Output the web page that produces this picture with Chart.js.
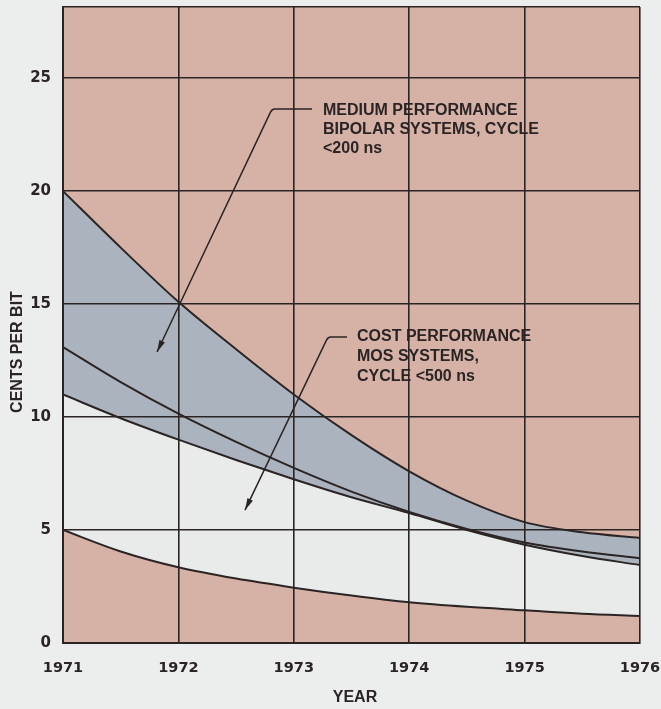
<!DOCTYPE html>
<html>
<head>
<meta charset="utf-8">
<script src="https://cdn.jsdelivr.net/npm/chart.js@4/dist/chart.umd.min.js"></script>
<style>
  html, body { margin: 0; padding: 0; background: #eceeee; }
  #wrap { width: 661px; height: 709px; }
</style>
</head>
<body>
<div id="wrap"><canvas id="c" width="661" height="709"></canvas></div>
<script>
// ---- data ----
const years = [1971, 1971.5, 1972, 1972.5, 1973, 1973.5, 1974, 1974.5, 1975, 1975.5, 1976];
// upper edge of the bipolar band
const bipolarUpper = [20.0, 17.5, 15.1, 13.0, 11.0, 9.2, 7.6, 6.3, 5.35, 4.9, 4.65];
// second curve (bipolar lower edge)
const bipolarLower = [13.1, 11.55, 10.15, 8.9, 7.75, 6.7, 5.8, 5.05, 4.45, 4.05, 3.75];
// upper edge of the MOS band
const mosUpper = [11.0, 9.95, 9.0, 8.1, 7.25, 6.45, 5.75, 5.0, 4.35, 3.85, 3.45];
// lower edge of the MOS band
const mosLower = [5.0, 4.05, 3.35, 2.85, 2.45, 2.1, 1.8, 1.6, 1.45, 1.3, 1.2];

const xTicks = [1971, 1972, 1973, 1974, 1975, 1976];
const yTicks = [0, 5, 10, 15, 20, 25];
const yMax = 28.15;

const xTitle = 'YEAR';
const yTitle = 'CENTS PER BIT';
const note1 = ['MEDIUM PERFORMANCE', 'BIPOLAR SYSTEMS, CYCLE', '<200 ns'];
const note2 = ['COST PERFORMANCE', 'MOS SYSTEMS,', 'CYCLE <500 ns'];
// annotation anchors in data units
const note1Pos = {tip: [1971.815, 12.88], corner: [1972.811, 23.63], end: 1973.158, textX: 1973.253, textY: 23.58, step: 0.84};
const note2Pos = {tip: [1972.577, 5.88], corner: [1973.296, 13.54], end: 1973.461, textX: 1973.548, textY: 13.54, step: 0.87};

const PINK = '#d6b2a6';
const GRAY = '#abb4be';
const WHITE = '#e9ebeb';
const INK = '#2b2424';

const pts = arr => years.map((x, i) => ({x: x, y: arr[i]}));

const bgPlugin = {
  id: 'bg',
  beforeDraw(chart) {
    const {ctx, chartArea: a} = chart;
    ctx.save();
    ctx.fillStyle = PINK;
    ctx.fillRect(a.left, a.top, a.right - a.left, a.bottom - a.top);
    ctx.restore();
  },
  afterDraw(chart) {
    const ctx = chart.ctx;
    const xs = chart.scales.x, ys = chart.scales.y;
    const X = v => xs.getPixelForValue(v), Y = v => ys.getPixelForValue(v);
    ctx.save();
    ctx.fillStyle = INK;
    ctx.strokeStyle = INK;
    // axis titles
    ctx.font = 'bold 16px "Liberation Sans", Arial, sans-serif';
    ctx.textAlign = 'center';
    ctx.textBaseline = 'middle';
    ctx.fillText(xTitle, 355, 698);
    ctx.save();
    ctx.translate(18, 352);
    ctx.rotate(-Math.PI / 2);
    ctx.fillText(yTitle, 0, 0);
    ctx.restore();

    function note(lines, p) {
      const tx = X(p.tip[0]), ty = Y(p.tip[1]);
      const cx = X(p.corner[0]), cy = Y(p.corner[1]);
      const ex = X(p.end);
      ctx.lineWidth = 1.5;
      ctx.beginPath();
      ctx.moveTo(ex, cy);
      ctx.lineTo(cx + 3, cy);
      ctx.quadraticCurveTo(cx, cy, cx - 1.5, cy + 3);
      ctx.lineTo(tx, ty);
      ctx.stroke();
      // arrowhead
      const ang = Math.atan2(ty - cy, tx - cx);
      const L = 12, W = 3;
      ctx.beginPath();
      ctx.moveTo(tx, ty);
      ctx.lineTo(tx - L * Math.cos(ang) + W * Math.sin(ang), ty - L * Math.sin(ang) - W * Math.cos(ang));
      ctx.lineTo(tx - L * Math.cos(ang) - W * Math.sin(ang), ty - L * Math.sin(ang) + W * Math.cos(ang));
      ctx.closePath();
      ctx.fill();
      ctx.font = 'bold 16px "Liberation Sans", Arial, sans-serif';
      ctx.textAlign = 'left';
      ctx.textBaseline = 'middle';
      lines.forEach((t, i) => ctx.fillText(t, X(p.textX), Y(p.textY - i * p.step)));
    }
    note(note1, note1Pos);
    note(note2, note2Pos);
    ctx.restore();
  }
};

const lineStyle = {
  borderColor: INK,
  borderWidth: 2,
  pointRadius: 0,
  cubicInterpolationMode: 'monotone'
};

new Chart(document.getElementById('c'), {
  type: 'line',
  data: {
    datasets: [
      Object.assign({label: 'Bipolar upper', data: pts(bipolarUpper), fill: {target: 2, above: GRAY, below: GRAY}}, lineStyle),
      Object.assign({label: 'Bipolar lower', data: pts(bipolarLower), fill: false}, lineStyle),
      Object.assign({label: 'MOS upper', data: pts(mosUpper), fill: {target: 3, above: WHITE, below: WHITE}}, lineStyle),
      Object.assign({label: 'MOS lower', data: pts(mosLower), fill: false}, lineStyle)
    ]
  },
  options: {
    responsive: false,
    animation: false,
    layout: {padding: {top: 7, right: 21, left: 0, bottom: 0}},
    plugins: {legend: {display: false}, tooltip: {enabled: false}, filler: {drawTime: 'beforeDatasetsDraw'}},
    scales: {
      x: {
        type: 'linear',
        min: xTicks[0],
        max: xTicks[xTicks.length - 1],
        afterBuildTicks: s => { s.ticks = xTicks.map(v => ({value: v})); },
        afterFit: s => { s.height = 66; s.paddingLeft = 0; s.paddingRight = 0; },
        ticks: {
          padding: 17,
          color: INK,
          font: {family: '"DejaVu Sans", sans-serif', weight: 'bold', size: 14.5},
          callback: v => String(v)
        },
        grid: {color: INK, lineWidth: 1.6, drawTicks: false, z: 1},
        border: {color: INK, width: 2, z: 1}
      },
      y: {
        type: 'linear',
        min: 0,
        max: yMax,
        afterBuildTicks: s => { s.ticks = yTicks.concat([yMax]).map(v => ({value: v})); },
        afterFit: s => { s.width = 63; s.paddingTop = 0; s.paddingBottom = 0; },
        ticks: {
          padding: 12,
          color: INK,
          font: {family: '"DejaVu Sans", sans-serif', weight: 'bold', size: 15},
          callback: v => (yTicks.includes(v) ? String(v) : '')
        },
        grid: {color: INK, lineWidth: 1.6, drawTicks: false, z: 1},
        border: {color: INK, width: 2, z: 1}
      }
    }
  },
  plugins: [bgPlugin]
});
</script>
</body>
</html>
